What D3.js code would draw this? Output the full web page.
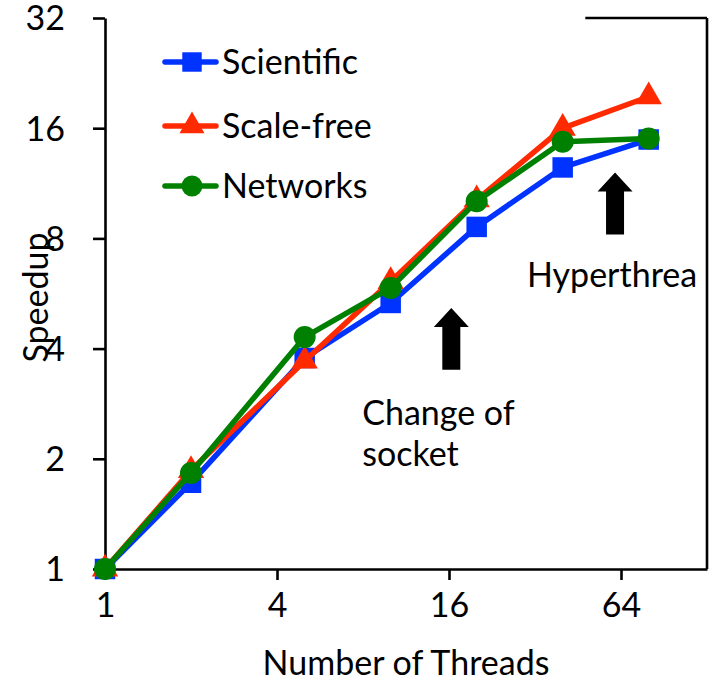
<!DOCTYPE html>
<html><head><meta charset="utf-8">
<script src="https://cdn.jsdelivr.net/npm/d3@7"></script>
<style>
html,body{margin:0;padding:0;background:#fff;}
text{font-family:Lato,"Open Sans",sans-serif;fill:#000;}
</style></head>
<body>
<svg id="chart" width="713" height="682"></svg>
<script>
// ---- data ----
const threads = [1, 2, 5, 10, 20, 40, 80];
const scientific = [1, 1.72, 3.77, 5.33, 8.6, 12.5, 14.9];
const scaleFree = [1, 1.86, 3.7, 6.1, 10.2, 16.0, 19.5];
const networks = [1, 1.83, 4.3, 5.86, 10.1, 14.7, 15.0];
const seriesNames = ["Scientific", "Scale-free", "Networks"];
const seriesColors = ["#0033ff", "#ff2a00", "#008000"];
const seriesSymbols = ["square", "triangle", "circle"];
const xTicks = [1, 4, 16, 64];
const yTicks = [1, 2, 4, 8, 16, 32];
const xTitle = "Number of Threads";
const yTitle = "Speedup";
// annotations: arrow x position (threads), tip/bottom (speedup)
const arrows = [
  {x: 16.3, tip: 5.16, bottom: 3.5},
  {x: 61, tip: 12.1, bottom: 8.2}
];
const notes = [
  {x: 7.95, y: 2.47, lines: ["Change of", "socket"]},
  {x: 30.0, y: 5.9, lines: ["Hyperthrea"]}
];

const svg = d3.select("#chart");
const x = d3.scaleLog().base(2).domain([1, 128]).range([105, 707]);
const y = d3.scaleLog().base(2).domain([1, 32]).range([569, 18]);
const FS = 34;

// axes
const xAxis = d3.axisBottom(x).tickValues(xTicks).tickFormat(d3.format("d")).tickSize(11).tickSizeOuter(0);
const yAxis = d3.axisLeft(y).tickValues(yTicks).tickFormat(d3.format("d")).tickSize(12).tickSizeOuter(0);
const gx = svg.append("g").attr("transform", `translate(0,${y(1)})`).call(xAxis);
const gy = svg.append("g").attr("transform", `translate(${x(1)},0)`).call(yAxis);
[gx, gy].forEach(g => {
  g.selectAll("path.domain").attr("stroke", "#000").attr("stroke-width", 2.6);
  g.selectAll(".tick line").attr("stroke", "#000").attr("stroke-width", 2.6);
  g.selectAll(".tick text").style("font-family", "Lato, sans-serif").style("font-size", FS + "px").attr("fill", "#000");
});
gx.selectAll(".tick text").attr("dy", "0").attr("y", 48);
gy.selectAll(".tick text").attr("x", -40).attr("dy", "0.35em");

// frame right and top
svg.append("line").attr("x1", x(128)).attr("x2", x(128)).attr("y1", y(32)).attr("y2", y(1))
  .attr("stroke", "#000").attr("stroke-width", 2.6);
svg.append("line").attr("x1", x(48)).attr("x2", x(128)).attr("y1", y(32)).attr("y2", y(32))
  .attr("stroke", "#000").attr("stroke-width", 2.6);

// axis titles
svg.append("text").attr("x", (x(1) + x(128)) / 2).attr("y", 675).attr("text-anchor", "middle")
  .style("font-size", FS + "px").text(xTitle);
svg.append("text").attr("transform", `translate(48,${(y(1) + y(32)) / 2 + 4}) rotate(-90)`)
  .attr("text-anchor", "middle").style("font-size", FS + "px").text(yTitle);

// series
const allSeries = [scientific, scaleFree, networks];
const symTypes = {square: d3.symbolSquare, triangle: d3.symbolTriangle, circle: d3.symbolCircle};
const symSizes = {square: 420, triangle: 300, circle: 380};
const line = d3.line().x(d => x(d[0])).y(d => y(d[1]));
allSeries.forEach((vals, i) => {
  const pts = threads.map((t, j) => [t, vals[j]]);
  const g = svg.append("g");
  g.append("path").attr("d", line(pts)).attr("fill", "none")
    .attr("stroke", seriesColors[i]).attr("stroke-width", 5.5).attr("stroke-linejoin", "round");
  g.selectAll("path.pt").data(pts).enter().append("path").attr("class", "pt")
    .attr("transform", d => `translate(${x(d[0])},${y(d[1])})`)
    .attr("d", d3.symbol().type(symTypes[seriesSymbols[i]]).size(symSizes[seriesSymbols[i]]))
    .attr("fill", seriesColors[i]);
});

// legend
const legend = svg.append("g");
seriesNames.forEach((name, i) => {
  const ly = [62, 126, 186][i];
  legend.append("line").attr("x1", 165).attr("x2", 216).attr("y1", ly).attr("y2", ly)
    .attr("stroke", seriesColors[i]).attr("stroke-width", 5.5).attr("stroke-linecap", "round");
  legend.append("path").attr("transform", `translate(192,${ly})`)
    .attr("d", d3.symbol().type(symTypes[seriesSymbols[i]]).size(symSizes[seriesSymbols[i]] * 0.9))
    .attr("fill", seriesColors[i]);
  legend.append("text").attr("x", 222).attr("y", ly + 12).style("font-size", FS + "px").text(name);
});

// arrows
arrows.forEach(a => {
  const cx = x(a.x), ty = y(a.tip), by = y(a.bottom);
  const hw = 17.5, sw = 9, hh = 19;
  const p = d3.path();
  p.moveTo(cx, ty); p.lineTo(cx + hw, ty + hh); p.lineTo(cx + sw, ty + hh); p.lineTo(cx + sw, by);
  p.lineTo(cx - sw, by); p.lineTo(cx - sw, ty + hh); p.lineTo(cx - hw, ty + hh); p.closePath();
  svg.append("path").attr("d", p.toString()).attr("fill", "#000");
});

// notes
notes.forEach(n => {
  const t = svg.append("text").attr("x", x(n.x)).attr("y", y(n.y)).style("font-size", FS + "px");
  n.lines.forEach((l, k) => t.append("tspan").attr("x", x(n.x)).attr("dy", k === 0 ? 0 : 41).text(l));
});
</script>
</body></html>
